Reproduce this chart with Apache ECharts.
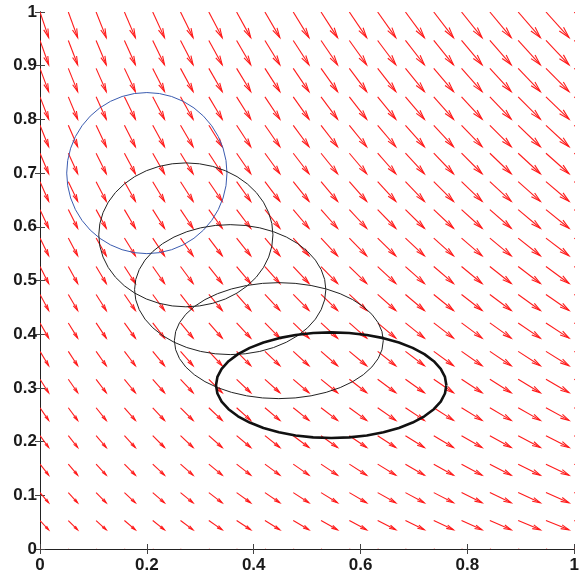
<!DOCTYPE html>
<html>
<head>
<meta charset="utf-8">
<script src="https://cdn.jsdelivr.net/npm/echarts@6/dist/echarts.min.js"></script>
<style>
html,body{margin:0;padding:0;background:#fff;}
#chart{width:582px;height:575px;}
</style>
</head>
<body>
<div id="chart"></div>
<script>
// Grid positions of the arrows (data units)
const gridX = [0, 0.053, 0.105, 0.158, 0.211, 0.263, 0.316, 0.368, 0.421, 0.474, 0.526, 0.579, 0.632, 0.684, 0.737, 0.789, 0.842, 0.895, 0.947, 1];
const gridY = [0, 0.053, 0.105, 0.158, 0.211, 0.263, 0.316, 0.368, 0.421, 0.474, 0.526, 0.579, 0.632, 0.684, 0.737, 0.789, 0.842, 0.895, 0.947, 1];
// Horizontal arrow component for each column (data units)
const arrowU = [0.0162, 0.0175, 0.0190, 0.0205, 0.0220, 0.0235, 0.0250, 0.0264, 0.0279, 0.0294, 0.0309, 0.0324, 0.0339, 0.0354, 0.0369, 0.0384, 0.0399, 0.0415, 0.0432, 0.0447];
// Vertical arrow component for each row (data units, bottom to top)
const arrowV = [-0.0162, -0.0173, -0.0190, -0.0205, -0.0220, -0.0235, -0.0250, -0.0267, -0.0283, -0.0298, -0.0315, -0.0330, -0.0347, -0.0365, -0.0382, -0.0399, -0.0416, -0.0432, -0.0453, -0.0477];

// Ellipses (circle and its images under the flow)
const ellCx = [0.2, 0.273, 0.356, 0.447, 0.545];
const ellCy = [0.7, 0.585, 0.483, 0.388, 0.305];
const ellRx = [0.15, 0.163, 0.179, 0.1955, 0.2156];
const ellRy = [0.15, 0.134, 0.121, 0.108, 0.0984];
const ellColor = ['#3b5cb0', '#222222', '#222222', '#222222', '#111111'];
const ellWidth = [1, 1, 1, 1, 2.6];

const xTicks = [0, 0.2, 0.4, 0.6, 0.8, 1];
const yTicks = [0, 0.1, 0.2, 0.3, 0.4, 0.5, 0.6, 0.7, 0.8, 0.9, 1];

const quiverData = [];
for (let i = 0; i < gridX.length; i++) {
  for (let j = 0; j < gridY.length; j++) {
    quiverData.push([gridX[i], gridY[j], arrowU[i], arrowV[j]]);
  }
}

function ellipsePoints(k) {
  const pts = [];
  const n = 40;
  for (let s = 0; s <= n; s++) {
    const t = 2 * Math.PI * s / n;
    pts.push([ellCx[k] + ellRx[k] * Math.cos(t), ellCy[k] + ellRy[k] * Math.sin(t)]);
  }
  return pts;
}

const chart = echarts.init(document.getElementById('chart'), null, {renderer: 'canvas'});

const labelStyle = {
  color: '#1a1a1a', fontWeight: 'bold', fontSize: 17, fontFamily: 'Liberation Sans, Arial, sans-serif'
};
const axisLineStyle = {lineStyle: {color: '#222', width: 1}};
const tickStyle = {show: true, inside: true, length: 5, lineStyle: {color: '#444', width: 1}};

const series = [{
  type: 'custom',
  xAxisIndex: 0, yAxisIndex: 0,
  clip: true,
  data: quiverData,
  encode: {x: 0, y: 1},
  renderItem: function (params, api) {
    const x = api.value(0), y = api.value(1), u = api.value(2), v = api.value(3);
    const p0 = api.coord([x, y]);
    const p1 = api.coord([x + u, y + v]);
    const dx = p1[0] - p0[0], dy = p1[1] - p0[1];
    const a = 0.33, b = 0.25;
    const h1 = [p1[0] - a * (dx + b * dy), p1[1] - a * (dy - b * dx)];
    const h2 = [p1[0] - a * (dx - b * dy), p1[1] - a * (dy + b * dx)];
    const st = {stroke: '#ff1a1a', lineWidth: 1.1, fill: null};
    return {
      type: 'group',
      children: [
        {type: 'polyline', shape: {points: [p0, p1]}, style: st},
        {type: 'polyline', shape: {points: [h1, p1, h2]}, style: st}
      ]
    };
  },
  z: 2
}];

for (let k = 0; k < ellCx.length; k++) {
  series.push({
    type: 'line',
    xAxisIndex: 0, yAxisIndex: 0,
    data: ellipsePoints(k),
    showSymbol: false,
    symbol: 'none',
    smooth: false,
    lineStyle: {color: ellColor[k], width: ellWidth[k]},
    z: 3,
    animation: false
  });
}

chart.setOption({
  animation: false,
  backgroundColor: '#fff',
  grid: {left: 40, right: 5, top: 12, bottom: 26},
  xAxis: [{
    type: 'value', min: 0, max: 1, interval: 0.2, position: 'bottom',
    axisLine: axisLineStyle, axisTick: tickStyle, splitLine: {show: false},
    axisLabel: Object.assign({margin: 8}, labelStyle)
  }, {
    type: 'value', min: 0, max: 1, interval: 0.2, position: 'top',
    axisLine: axisLineStyle, axisTick: tickStyle, splitLine: {show: false},
    axisLabel: {show: false}
  }],
  yAxis: [{
    type: 'value', min: 0, max: 1, interval: 0.1, position: 'left',
    axisLine: axisLineStyle, axisTick: tickStyle, splitLine: {show: false},
    axisLabel: Object.assign({margin: 3}, labelStyle)
  }, {
    type: 'value', min: 0, max: 1, interval: 0.1, position: 'right',
    axisLine: axisLineStyle, axisTick: tickStyle, splitLine: {show: false},
    axisLabel: {show: false}
  }],
  series: series
});
</script>
</body>
</html>
